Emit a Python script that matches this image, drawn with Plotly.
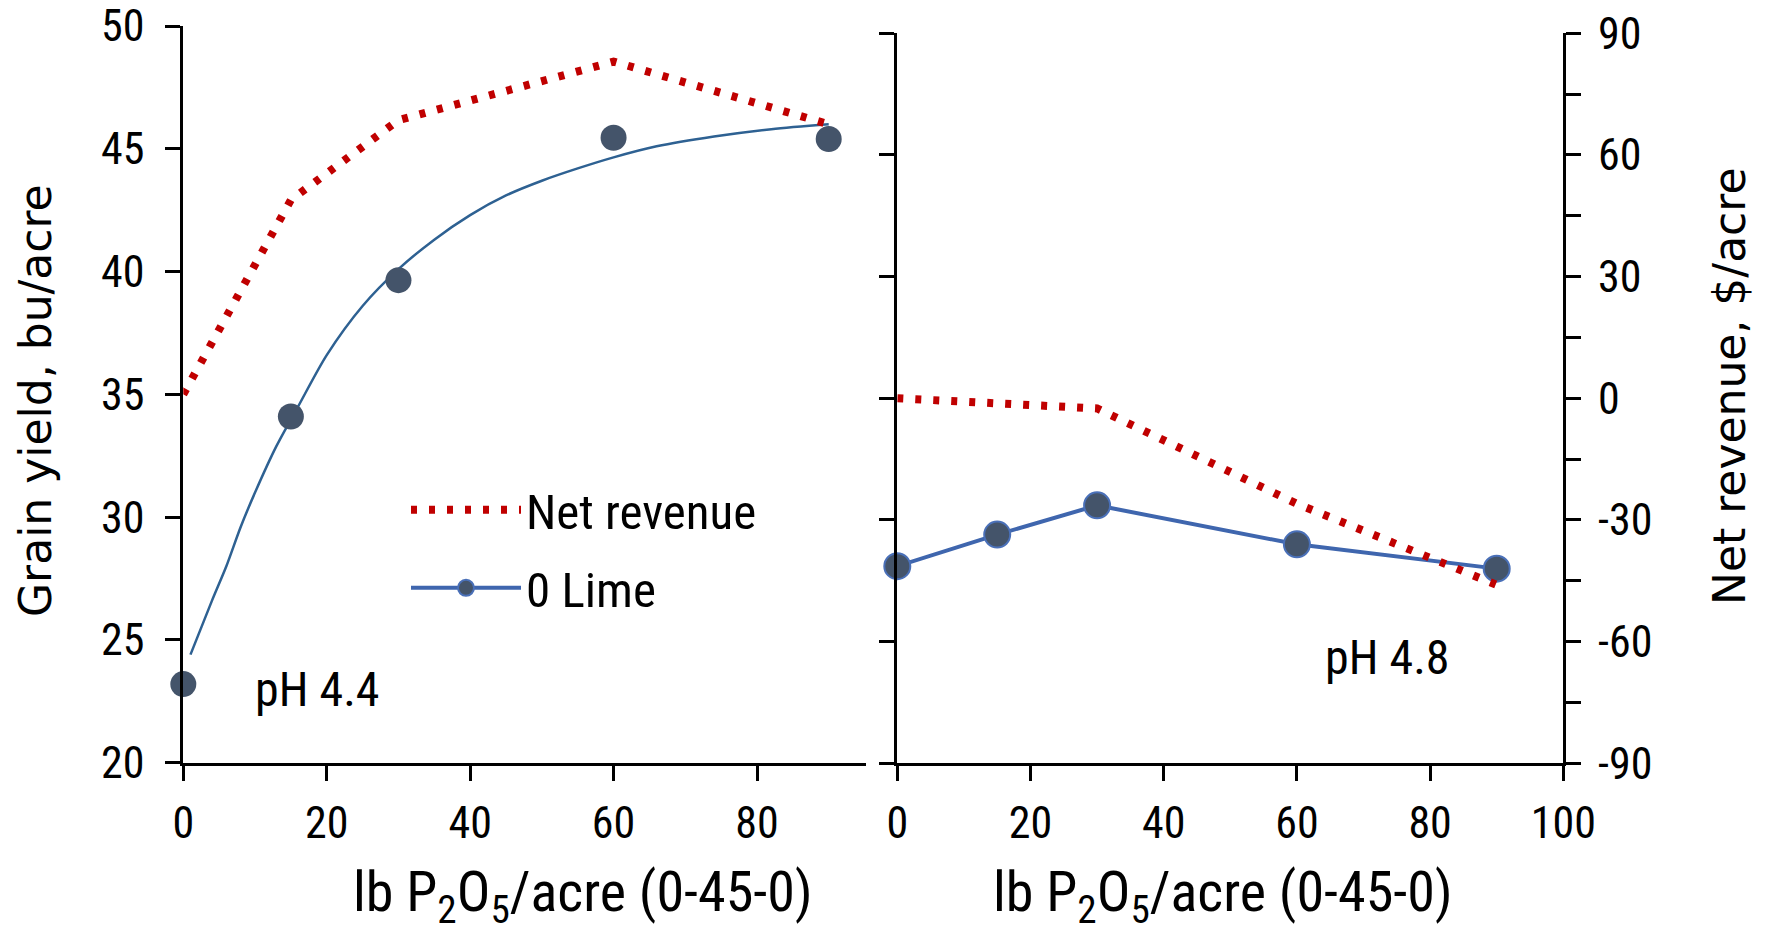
import plotly.graph_objects as go

W, H = 1766, 927

# Phosphorus rates, lb P2O5/acre
p_rate = [0, 15, 30, 60, 90]

# pH 4.4 panel
yield_ph44 = [23.2, 34.1, 39.65, 45.45, 45.4]
revenue_ph44 = [0, 47.5, 67.0, 81.3, 66.0]
fit_x = [1, 4, 6, 8, 10, 13, 16, 20, 25, 30, 35, 40, 45, 50, 55, 60, 66, 74, 82, 90]
fit_y = [24.4, 26.6, 28.0, 29.6, 31.0, 32.9, 34.5, 36.6, 38.6, 40.1, 41.3, 42.3,
         43.1, 43.7, 44.2, 44.65, 45.1, 45.5, 45.8, 46.0]

# pH 4.8 panel
yield_ph48 = [28.1, 29.4, 30.6, 29.0, 28.0]
revenue_ph48 = [0, -1.2, -2.5, -26.0, -46.0]

# Axis ticks
yield_ticks = [20, 25, 30, 35, 40, 45, 50]
revenue_ticks = [-90, -75, -60, -45, -30, -15, 0, 15, 30, 45, 60, 75, 90]
revenue_labels = ["-90", "", "-60", "", "-30", "", "0", "", "30", "", "60", "", "90"]
x_ticks_left = [0, 20, 40, 60, 80]
x_ticks_right = [0, 20, 40, 60, 80, 100]

NARROW = "Liberation Sans Narrow, Arial Narrow, Roboto Condensed, Liberation Sans, sans-serif"
WIDE = "DejaVu Sans, Verdana, sans-serif"
RED = "#C00000"
DOT_FILL = "#44546A"
LINE_BLUE = "#3F66AE"
FIT_BLUE = "#2E6192"


def fx(x):
    return x / W


def fy(y):
    return 1 - y / H


fig = go.Figure()

# Left panel: fitted response curve, observed yields, net revenue
fig.add_trace(go.Scatter(x=fit_x, y=fit_y, mode="lines", xaxis="x", yaxis="y",
                         line=dict(color=FIT_BLUE, width=2.5, shape="spline", smoothing=0.8),
                         showlegend=False, hoverinfo="skip"))
fig.add_trace(go.Scatter(x=p_rate, y=yield_ph44, mode="markers", xaxis="x", yaxis="y",
                         marker=dict(size=26, color=DOT_FILL, line=dict(width=0)),
                         showlegend=False, cliponaxis=False))
fig.add_trace(go.Scatter(x=p_rate, y=revenue_ph44, mode="lines", xaxis="x", yaxis="y3",
                         name="Net revenue", legend="legend",
                         line=dict(color=RED, width=8, dash="6px,12px"),
                         cliponaxis=False))

# Right panel: yields and net revenue
fig.add_trace(go.Scatter(x=p_rate, y=yield_ph48, mode="lines+markers", xaxis="x2", yaxis="y2",
                         name="0 Lime", legend="legend2",
                         line=dict(color=LINE_BLUE, width=4),
                         marker=dict(size=26, color=DOT_FILL, line=dict(color="#4A70B8", width=2)),
                         cliponaxis=False))
fig.add_trace(go.Scatter(x=p_rate, y=revenue_ph48, mode="lines", xaxis="x2", yaxis="y4",
                         line=dict(color=RED, width=8, dash="6px,12px"),
                         showlegend=False, cliponaxis=False))

axis_common = dict(showline=True, linecolor="black", linewidth=3, ticks="outside",
                   ticklen=15, tickwidth=3, tickcolor="black", showgrid=False,
                   zeroline=False, tickfont=dict(family=NARROW, size=44, color="black"))

left_dom_x = [fx(183.3), fx(866)]
left_dom_y = [fy(762.7), fy(26)]
right_dom_x = [fx(897.3), fx(1563.3)]
right_dom_y = [fy(763.3), fy(33.3)]

fig.update_layout(
    width=W, height=H,
    margin=dict(l=0, r=0, t=0, b=0, autoexpand=False),
    paper_bgcolor="white", plot_bgcolor="white",
    xaxis=dict(domain=left_dom_x, range=[0, 95.2], anchor="y",
               tickvals=x_ticks_left, ticklabelstandoff=4, **axis_common),
    yaxis=dict(domain=left_dom_y, range=[20, 50], anchor="x",
               tickvals=yield_ticks, ticklabelstandoff=12, **axis_common),
    yaxis3=dict(overlaying="y", range=[-90, 90], anchor="x", visible=False),
    xaxis2=dict(domain=right_dom_x, range=[0, 100], anchor="y2",
                tickvals=x_ticks_right, ticklabelstandoff=4, **axis_common),
    yaxis2=dict(domain=right_dom_y, range=[20, 50], anchor="x2",
                tickvals=yield_ticks, showticklabels=False,
                **{k: v for k, v in axis_common.items() if k != "tickfont"}),
    yaxis4=dict(overlaying="y2", range=[-90, 90], anchor="x2", side="right",
                tickvals=revenue_ticks, ticktext=revenue_labels, ticklabelstandoff=8,
                **axis_common),
    legend=dict(x=fx(406), y=fy(510), xanchor="left", yanchor="middle",
                bgcolor="rgba(0,0,0,0)", itemwidth=110,
                font=dict(family=NARROW, size=49, color="black")),
    legend2=dict(x=fx(406), y=fy(588), xanchor="left", yanchor="middle",
                 bgcolor="rgba(0,0,0,0)", itemwidth=110,
                 font=dict(family=NARROW, size=49, color="black")),
)

# Axis titles and panel labels
title_font_x = dict(family=NARROW, size=56, color="black")
title_font_y = dict(family=WIDE, size=44, color="black")
fig.add_annotation(text="lb P<sub>2</sub>O<sub>5</sub>/acre (0-45-0)", x=fx(583), y=fy(896),
                   xref="paper", yref="paper", showarrow=False, font=title_font_x,
                   xanchor="center", yanchor="middle")
fig.add_annotation(text="lb P<sub>2</sub>O<sub>5</sub>/acre (0-45-0)", x=fx(1223), y=fy(896),
                   xref="paper", yref="paper", showarrow=False, font=title_font_x,
                   xanchor="center", yanchor="middle")
fig.add_annotation(text="Grain yield, bu/acre", x=fx(36), y=fy(401), textangle=-90,
                   xref="paper", yref="paper", showarrow=False, font=title_font_y,
                   xanchor="center", yanchor="middle")
fig.add_annotation(text="Net revenue, $/acre", x=fx(1729), y=fy(386), textangle=-90,
                   xref="paper", yref="paper", showarrow=False, font=title_font_y,
                   xanchor="center", yanchor="middle")
fig.add_annotation(text="pH 4.4", x=fx(253), y=fy(689), xref="paper", yref="paper",
                   showarrow=False, font=dict(family=NARROW, size=48, color="black"),
                   xanchor="left", yanchor="middle")
fig.add_annotation(text="pH 4.8", x=fx(1323), y=fy(657), xref="paper", yref="paper",
                   showarrow=False, font=dict(family=NARROW, size=48, color="black"),
                   xanchor="left", yanchor="middle")

fig.write_html("out.html")
